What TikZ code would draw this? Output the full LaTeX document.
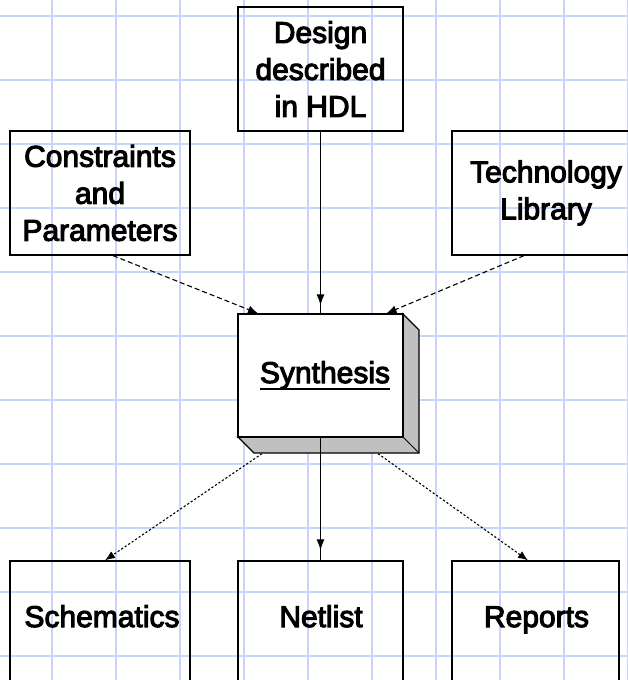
\documentclass[tikz,border=0pt]{standalone}
\usepackage{fontspec}
\newfontfamily\diafont[FakeBold=3.5]{Liberation Sans}
\usetikzlibrary{arrows.meta,decorations.markings}
\definecolor{gridblue}{RGB}{200,212,248}
\definecolor{shadegray}{RGB}{192,192,192}
\tikzset{
  gridline/.style={draw=gridblue, line width=1.8pt},
  box/.style={draw, line width=1.3pt, inner sep=0pt},
  txt/.style={font=\diafont\fontsize{30}{37}\selectfont, align=center, text=black},
  lbl/.style={font=\diafont\fontsize{30}{37}\selectfont, inner sep=0pt, anchor=base, text=black},
  tip/.style={-{Latex[length=10pt,width=8pt]}},
  dashline/.style={line width=1.1pt, dash pattern=on 5pt off 3pt, tip},
  dotline/.style={line width=1.1pt, dash pattern=on 2.2pt off 2pt, tip},
  solidarrow/.style={line width=1.2pt, postaction={decorate},
    decoration={markings, mark=at position #1 with {\arrow{Latex[length=11pt,width=8pt]}}}},
}
\begin{document}
\begin{tikzpicture}[x=1pt,y=-1pt]
\useasboundingbox (0,0) rectangle (628,680);
\clip (0,0) rectangle (628,680);
% grid
\foreach \gx in {52,116,...,628} {\draw[gridline] (\gx,0) -- (\gx,680);}
\foreach \gy in {16,80,...,656} {\draw[gridline] (0,\gy) -- (628,\gy);}
% synthesis extrusion
\filldraw[fill=shadegray, line width=1.3pt, line join=miter]
  (403,314) -- (419,330) -- (419,453) -- (254,453) -- (238,437) -- (403,437) -- cycle;
\draw[line width=1pt] (403,437) -- (419,453);
% boxes
\node[box, txt, minimum width=165pt, minimum height=124pt] (des) at (320.5,69) {Design\\described\\in HDL};
\node[box, txt, minimum width=180pt, minimum height=124pt] (con) at (100,193) {Constraints\\and\\Parameters};
\node[box, txt, minimum width=188pt, minimum height=124pt] (tech) at (546,193) {Technology\\Library};
\node[box, fill=white, minimum width=165pt, minimum height=123pt] (syn) at (320.5,375.5) {};
\node[box, minimum width=180pt, minimum height=140pt] (sch) at (100,631) {};
\node[box, minimum width=165pt, minimum height=140pt] (net) at (320.5,631) {};
\node[box, minimum width=167pt, minimum height=140pt] (rep) at (535.5,631) {};
% labels
\node[lbl] (syntxt) at (325,383) {Synthesis};
\draw[line width=1.4pt] ([yshift=-6pt]syntxt.base west) -- ([yshift=-6pt]syntxt.base east);
\node[lbl] (schtxt) at (102,627) {Schematics};
\node[lbl] (nettxt) at (321,627) {Netlist};
\node[lbl] (reptxt) at (536.5,627) {Reports};
% connectors
\draw[solidarrow=-8pt] (des.south) -- (syn.north);
\draw[dashline] ([xshift=13pt]con.south) -- ([xshift=-62.5pt]syn.north);
\draw[dashline] ([xshift=-22pt]tech.south) -- ([xshift=66pt]syn.north);
\draw[solidarrow=-10pt] (syn.south) -- (net.north);
\coordinate (synbl) at ([xshift=-58.5pt,yshift=-16pt]syn.south);
\coordinate (synbr) at ([xshift=57.5pt,yshift=-16pt]syn.south);
\draw[dotline] (synbl) -- ([xshift=5pt]sch.north);
\draw[dotline] (synbr) -- ([xshift=-7.5pt]rep.north);
\end{tikzpicture}
\end{document}
